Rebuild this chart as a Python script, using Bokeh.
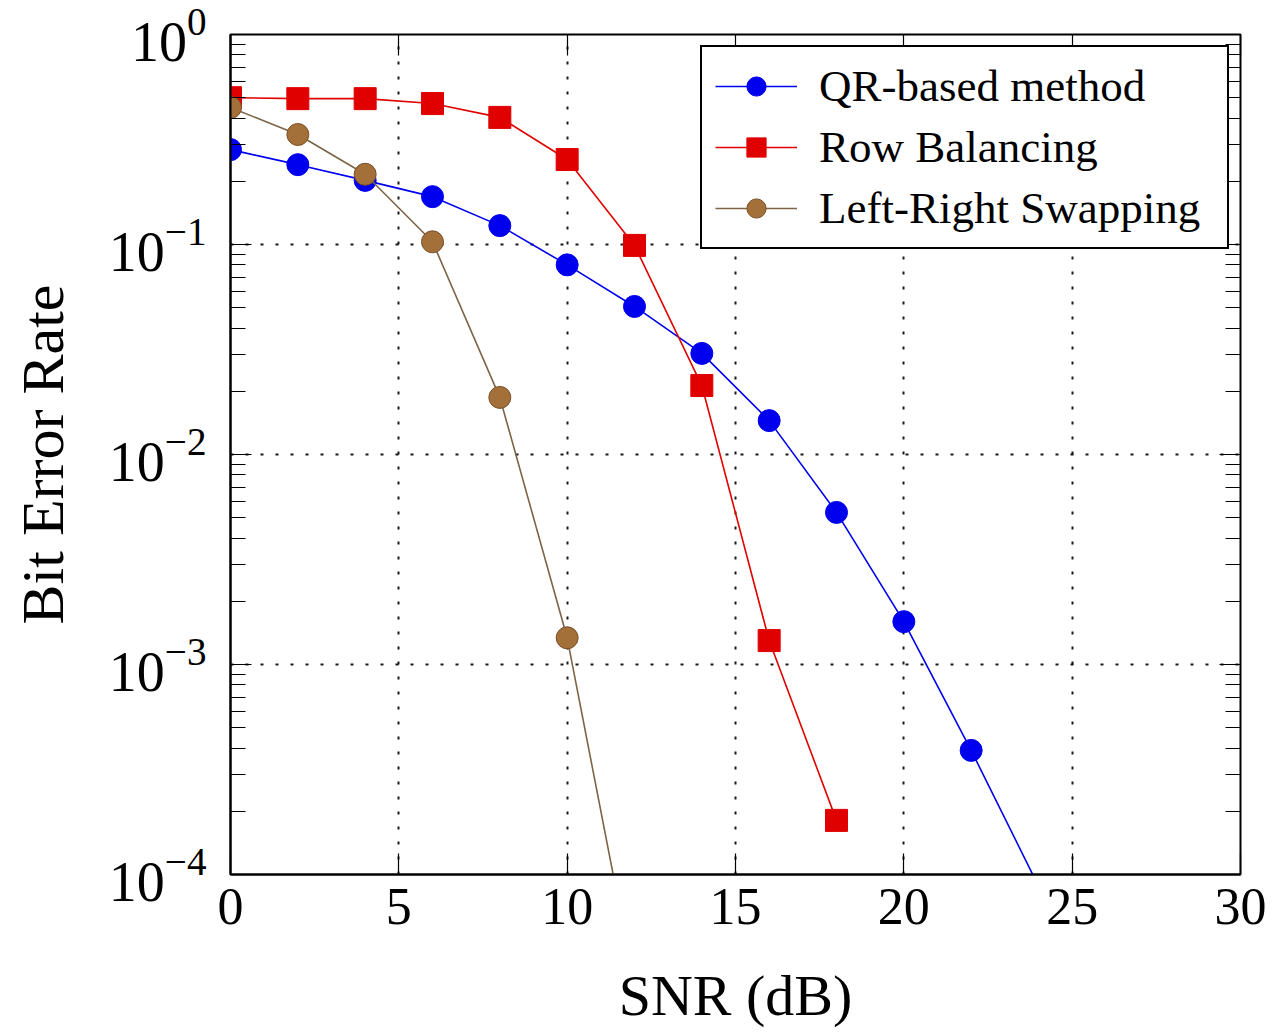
from bokeh.plotting import figure
from bokeh.models import (LinearAxis, LogAxis, FixedTicker, Range1d, Legend, LegendItem,
                          CustomJSTickFormatter)
from bokeh.embed import file_html
from bokeh.resources import INLINE

# ---- data ----
qr_snr = [0, 2, 4, 6, 8, 10, 12, 14, 16, 18, 20, 22, 24]
qr_ber = [0.283, 0.240, 0.202, 0.169, 0.123, 0.080, 0.0507, 0.0303, 0.0145,
          0.0053, 0.0016, 0.00039, 0.000088]

rb_snr = [0, 2, 4, 6, 8, 10, 12, 14, 16, 18]
rb_ber = [0.50, 0.495, 0.495, 0.469, 0.403, 0.254, 0.099, 0.0213, 0.0013, 0.000181]

lr_snr = [0, 2, 4, 6, 8, 10, 12]
lr_ber = [0.449, 0.334, 0.216, 0.103, 0.0187, 0.00134, 0.00003]

x_ticks = [0, 5, 10, 15, 20, 25, 30]
y_ticks = [1e-4, 1e-3, 1e-2, 1e-1, 1e0]
y_minor = [m * 10.0 ** e for e in range(-4, 0) for m in range(2, 10)]

labels = ["QR-based method", "Row Balancing", "Left-Right Swapping"]

FONT = "Liberation Serif"

p = figure(frame_width=1010, frame_height=840,
           x_range=Range1d(0, 30), y_range=Range1d(1e-4, 1),
           y_axis_type="log", output_backend="svg", toolbar_location=None,
           min_border_left=230, min_border_right=37, min_border_top=34,
           min_border_bottom=157, background_fill_color="white",
           border_fill_color="white")

p.outline_line_color = "black"
p.outline_line_width = 2
p.outline_line_alpha = 1

# axes
xa = p.xaxis[0]
xa.ticker = FixedTicker(ticks=x_ticks)
ya = p.yaxis[0]
ya.ticker = FixedTicker(ticks=y_ticks, minor_ticks=y_minor)

for ax in (xa, ya):
    ax.major_tick_in = 21
    ax.major_tick_out = 0
    ax.minor_tick_in = 15
    ax.minor_tick_out = 0
    ax.axis_line_color = "black"
    ax.axis_line_width = 2
    ax.major_tick_line_color = "black"
    ax.major_tick_line_width = 1.2
    ax.minor_tick_line_color = "black"
    ax.minor_tick_line_width = 1.2
    ax.major_label_text_font = FONT
    ax.major_label_text_color = "black"
    ax.axis_label_text_font = FONT
    ax.axis_label_text_font_style = "normal"
    ax.axis_label_text_color = "black"

xa.major_label_text_font_size = "52px"
ya.major_label_text_font_size = "56px"
xa.axis_label_text_font_size = "58px"
ya.axis_label_text_font_size = "60px"

xa.axis_label = "SNR (dB)"
xa.major_label_standoff = 14
xa.axis_label_standoff = 36
ya.axis_label = "Bit Error Rate"
ya.major_label_standoff = 24
ya.axis_label_standoff = 30

# mirrored axes (ticks only, empty labels)
top = LinearAxis(ticker=FixedTicker(ticks=x_ticks),
                 formatter=CustomJSTickFormatter(code="return ''"))
right = LogAxis(ticker=FixedTicker(ticks=y_ticks, minor_ticks=y_minor),
                formatter=CustomJSTickFormatter(code="return ''"))
for ax in (top, right):
    ax.major_tick_in = 21
    ax.major_tick_out = 0
    ax.minor_tick_in = 15
    ax.minor_tick_out = 0
    ax.major_tick_line_color = "black"
    ax.major_tick_line_width = 1.2
    ax.minor_tick_line_color = "black"
    ax.minor_tick_line_width = 1.2
    ax.axis_line_color = None
    ax.major_label_standoff = 0
p.add_layout(top, "above")
p.add_layout(right, "right")

# grid
for g in (p.xgrid[0], p.ygrid[0]):
    g.grid_line_color = "black"
    g.grid_line_dash = "3 12"
    g.grid_line_width = 2
    g.grid_line_alpha = 0.9
p.xgrid[0].ticker = FixedTicker(ticks=x_ticks)
p.ygrid[0].ticker = FixedTicker(ticks=y_ticks)

# series
blue = "#0000ee"
red = "#e00000"
brown_fill = "#a4703a"
brown_line = "#7d6447"

l1 = p.line(qr_snr, qr_ber, line_color=blue, line_width=1.6)
m1 = p.scatter(qr_snr, qr_ber, marker="circle", size=22, fill_color=blue, line_color=blue)
l2 = p.line(rb_snr, rb_ber, line_color=red, line_width=1.6)
m2 = p.scatter(rb_snr, rb_ber, marker="square", size=22, fill_color=red, line_color=red)
l3 = p.line(lr_snr, lr_ber, line_color=brown_line, line_width=1.6)
m3 = p.scatter(lr_snr, lr_ber, marker="circle", size=22, fill_color=brown_fill, line_color="#7a5028")

legend = Legend(items=[
    LegendItem(label=labels[0], renderers=[l1, m1]),
    LegendItem(label=labels[1], renderers=[l2, m2]),
    LegendItem(label=labels[2], renderers=[l3, m3]),
], location="top_right")
legend.label_text_font = FONT
legend.label_text_font_size = "45px"
legend.label_text_color = "black"
legend.glyph_width = 82
legend.glyph_height = 48
legend.label_width = 395
legend.spacing = 9
legend.padding = 13
legend.margin = 11
legend.label_standoff = 22
legend.border_line_color = "black"
legend.border_line_width = 2
legend.border_line_alpha = 1
legend.background_fill_alpha = 1
p.add_layout(legend)

open("out.html", "w").write(file_html(p, INLINE))
